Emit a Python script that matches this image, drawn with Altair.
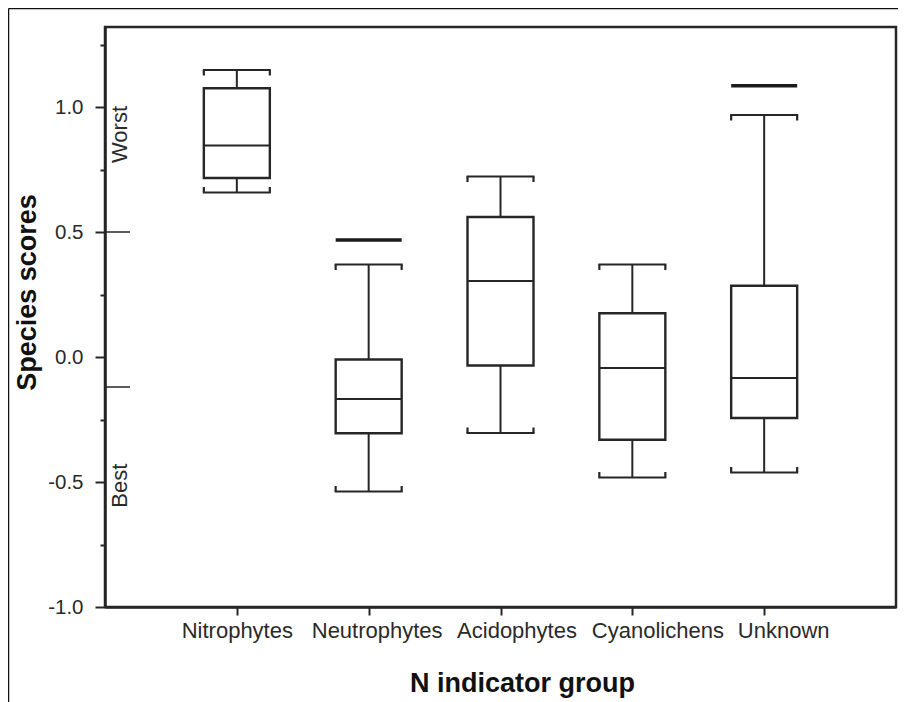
import altair as alt
import pandas as pd

groups = ["Nitrophytes", "Neutrophytes", "Acidophytes", "Cyanolichens", "Unknown"]
upper_cap = [1.148, 0.370, 0.722, 0.370, 0.968]
q3 = [1.075, -0.010, 0.560, 0.175, 0.285]
median = [0.846, -0.168, 0.304, -0.044, -0.084]
q1 = [0.716, -0.305, -0.034, -0.331, -0.244]
lower_cap = [0.658, -0.538, -0.304, -0.482, -0.462]

extra_groups = ["Neutrophytes", "Unknown"]
extra_values = [0.468, 1.085]

marker_values = [0.5, -0.12]
side_labels = ["Worst", "Best"]
side_label_pos = [0.89, -0.515]

y_ticks = [-1.0, -0.75, -0.5, -0.25, 0.0, 0.25, 0.5, 0.75, 1.0, 1.25]

df = pd.DataFrame({"group": groups, "upper": upper_cap, "q3": q3, "median": median,
                   "q1": q1, "lower": lower_cap})
ext = pd.DataFrame({"group": extra_groups, "value": extra_values})
marks_df = pd.DataFrame({"v": marker_values})
side_df = pd.DataFrame({"label": side_labels, "v": side_label_pos})

INK = "#262626"
FONT = "Liberation Sans"
BOXW = 66

xscale = alt.Scale(type="point", padding=1, domain=groups)
yscale = alt.Scale(domain=[-1.0, 1.32], nice=False, zero=False)

major = "abs(datum.value*2 - round(datum.value*2)) < 0.001"

# label shifts as printed in the original figure (layout only)
label_shift = {"Neutrophytes": 8, "Acidophytes": 16, "Cyanolichens": 25, "Unknown": 19}
label_offset = {"condition": [{"test": f"datum.value == '{k}'", "value": v}
                              for k, v in label_shift.items()], "value": 0}

x_enc = alt.X("group:N", scale=xscale, sort=groups,
              axis=alt.Axis(title="N indicator group", labelAngle=0, labelFontSize=22,
                            labelColor="#2a2a2a", labelFont=FONT, labelPadding=5,
                            labelOffset=label_offset,
                            tickSize=8, tickWidth=2, tickColor=INK,
                            domainColor=INK, domainWidth=2.5,
                            titleFont=FONT, titleFontSize=27, titleFontWeight="bold",
                            titleColor="#111", titleX=417, titleY=76,
                            titleAlign="center", titleBaseline="middle"))
y_axis = alt.Axis(title="Species scores", values=y_ticks,
                  labelExpr=major + " ? replace(format(datum.value, '.1f'), '\u2212', '-') : ''",
                  tickSize={"condition": {"test": major, "value": 10}, "value": 5},
                  tickWidth=2, tickColor=INK, domainColor=INK, domainWidth=2.5,
                  labelFontSize=20.5, labelColor="#2a2a2a", labelFont=FONT, labelPadding=12,
                  grid=False, titleFont=FONT, titleFontSize=27, titleFontWeight="bold",
                  titleColor="#111", titleAngle=-90, titleX=-78, titleY=265,
                  titleAlign="center", titleBaseline="middle")

base = alt.Chart(df)
xg = alt.X("group:N", scale=xscale, sort=groups)

whisk_hi = base.mark_rule(color=INK, strokeWidth=2).encode(
    x=x_enc, y=alt.Y("q3:Q", scale=yscale, axis=y_axis), y2="upper:Q")
whisk_lo = base.mark_rule(color=INK, strokeWidth=2).encode(x=xg, y="q1:Q", y2="lower:Q")

box = base.mark_bar(size=BOXW, fill="white", stroke=INK, strokeWidth=2.4).encode(
    x=xg, y="q1:Q", y2="q3:Q")
med = base.mark_tick(size=BOXW, thickness=2.2, color=INK, opacity=1,
                     orient="horizontal").encode(x=xg, y="median:Q")
cap_hi = base.mark_tick(size=BOXW + 2, thickness=2.2, color=INK, opacity=1,
                        orient="horizontal").encode(x=xg, y="upper:Q")
cap_lo = base.mark_tick(size=BOXW + 2, thickness=2.2, color=INK, opacity=1,
                        orient="horizontal").encode(x=xg, y="lower:Q")

hooks = []
for off in (-(BOXW / 2), BOXW / 2):
    hooks.append(base.transform_calculate(h="datum.upper - 0.022").mark_rule(
        color=INK, strokeWidth=2.2, xOffset=off).encode(x=xg, y="upper:Q", y2="h:Q"))
    hooks.append(base.transform_calculate(h="datum.lower + 0.022").mark_rule(
        color=INK, strokeWidth=2.2, xOffset=off).encode(x=xg, y="lower:Q", y2="h:Q"))

extra = alt.Chart(ext).mark_tick(size=BOXW, thickness=3.5, color="#1a1a1a", opacity=1,
                                 orient="horizontal").encode(x=xg, y="value:Q")

inner = alt.Chart(marks_df).mark_rule(color=INK, strokeWidth=1.5).encode(
    x=alt.value(0), x2=alt.value(25), y="v:Q")

side = alt.Chart(side_df).mark_text(angle=270, fontSize=22, font=FONT, color="#2a2a2a",
                                    align="center", baseline="middle").encode(
    x=alt.value(15), y="v:Q", text="label:N")

frame_top = alt.Chart(marks_df.head(1)).mark_rule(color="#111", strokeWidth=1.5).encode(
    x=alt.value(-96.5), x2=alt.value(800), y=alt.value(-18.5))
frame_left = alt.Chart(marks_df.head(1)).mark_rule(color="#111", strokeWidth=1.5).encode(
    x=alt.value(-96.5), y=alt.value(-18.5), y2=alt.value(700))

chart = alt.layer(whisk_hi, whisk_lo, box, med, cap_hi, cap_lo, *hooks, extra, inner, side,
                  frame_top, frame_left).properties(
    width=791, height=580,
    autosize=alt.AutoSizeParams(type="none"),
    padding={"left": 97, "top": 19, "right": 2, "bottom": 95},
).configure(background="white").configure_view(stroke=INK, strokeWidth=2.5)

chart.save("out.html", embed_options={"renderer": "svg", "actions": False})
